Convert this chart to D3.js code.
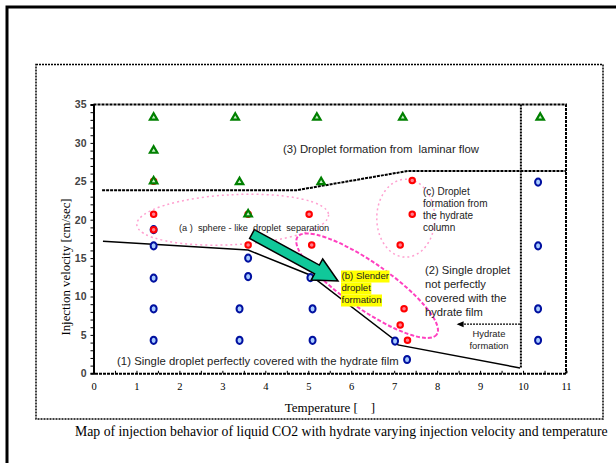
<!DOCTYPE html>
<html>
<head>
<meta charset="utf-8">
<script src="https://cdn.jsdelivr.net/npm/d3@7"></script>
<style>
  body { margin: 0; background: #fff; }
  svg { display: block; }
  text { white-space: pre; }
</style>
</head>
<body>
<svg width="616" height="463"></svg>
<script>
// tick values
const xTicks = d3.range(0, 12);
const xMinorTicks = d3.range(0, 11.01, 0.5);
const yTicks = d3.range(0, 36);

// observed points [temperature, velocity]
const laminarPts = [[1.4, 33.3], [3.3, 33.3], [5.2, 33.3], [7.2, 33.3], [10.4, 33.3],
  [1.4, 29.0], [1.4, 25.0], [3.4, 24.9], [5.3, 24.9], [3.6, 20.7]];
const filmPts = [[1.4, 4.3], [1.4, 8.4], [1.4, 12.4], [1.4, 16.6], [1.4, 18.7],
  [3.4, 4.3], [3.4, 8.4], [3.6, 12.6], [3.6, 15.0],
  [5.05, 12.45], [5.1, 8.4], [5.1, 4.3], [7.02, 4.2], [7.3, 1.8],
  [10.35, 4.3], [10.35, 8.4], [10.35, 16.6], [10.35, 24.9]];
const dropletPts = [[1.4, 20.7], [1.4, 18.7], [1.4, 25.0], [3.6, 20.7], [3.6, 16.7],
  [5.02, 20.7], [5.08, 16.7], [7.42, 25.1], [7.42, 20.7], [7.14, 16.7],
  [7.23, 8.4], [7.14, 6.3], [7.31, 4.3]];

// regime boundaries
const laminarBoundary = [[0.2, 23.85], [4.74, 23.85], [7.32, 26.35], [11, 26.35]];
const filmBoundary = [[0.22, 17.2], [3.6, 16.05], [5.04, 12.8], [7.02, 4.3], [7.09, 3.7], [9.93, 0.7]];
const hydrateLimit = [[9.95, 35], [9.95, 0.7]];
const hydrateArrow = [[9.93, 6.4], [8.5, 6.4]];

const svg = d3.select('svg');
const sans = 'Liberation Sans, Arial, sans-serif';
const serif = 'Liberation Serif, Times New Roman, serif';

const pL = 93.5, pR = 566, pT = 104.5, pB = 373.3;
const x = d3.scaleLinear().domain([0, 11]).range([pL, pR]);
const y = d3.scaleLinear().domain([0, 35]).range([pB, pT]);

// outer frames
svg.append('rect').attr('x', 7).attr('y', 7).attr('width', 640).attr('height', 480)
  .attr('fill', 'none').attr('stroke', '#000').attr('stroke-width', 3);
svg.append('rect').attr('x', 36).attr('y', 64.5).attr('width', 567).attr('height', 354.5)
  .attr('fill', 'none').attr('stroke', '#000').attr('stroke-width', 1.5).attr('stroke-dasharray', '2,1');

// plot border top / right
svg.append('path').attr('d', `M${pL},${pT}H${pR}V${pB}`)
  .attr('fill', 'none').attr('stroke', '#000').attr('stroke-width', 2).attr('stroke-dasharray', '3,1');

// axes
const gx = svg.append('g').attr('transform', `translate(0,${pB})`)
  .call(d3.axisBottom(x).tickValues(xMinorTicks).tickSize(-2.5).tickFormat(''));
gx.select('.domain').attr('stroke-width', 2).attr('stroke-dasharray', '3,1');
svg.append('g').attr('transform', `translate(0,${pB})`)
  .call(d3.axisBottom(x).tickValues(xTicks).tickSize(0).tickPadding(9))
  .call(g => g.select('.domain').remove())
  .selectAll('text').attr('font-family', serif).attr('font-size', 10.5).attr('fill', '#000');

const gy = svg.append('g').attr('transform', `translate(${pL},0)`)
  .call(d3.axisLeft(y).tickValues(yTicks).tickSize(3).tickPadding(4)
    .tickFormat(d => d % 5 === 0 ? d : ''));
gy.select('.domain').attr('stroke-width', 2);
gy.selectAll('text').attr('font-family', sans).attr('font-size', 10.5)
  .attr('font-weight', 'bold').attr('fill', '#444');

// axis titles
svg.append('text').attr('x', 330).attr('y', 412).attr('text-anchor', 'middle')
  .attr('font-family', serif).attr('font-size', 13).text('Temperature [    ]');
svg.append('text').attr('transform', 'translate(70,267) rotate(-90)').attr('text-anchor', 'middle')
  .attr('font-family', serif).attr('font-size', 12.8).text('Injection velocity [cm/sec]');
svg.append('text').attr('x', 75).attr('y', 436)
  .attr('font-family', serif).attr('font-size', 13.75)
  .text('Map of injection behavior of liquid CO2 with hydrate varying injection velocity and temperature');

const line = d3.line().x(d => x(d[0])).y(d => y(d[1]));

// regime ellipses
svg.append('ellipse').attr('cx', x(3.24)).attr('cy', y(20.0)).attr('rx', 96).attr('ry', 25)
  .attr('transform', `rotate(-3,${x(3.24)},${y(20.0)})`)
  .attr('fill', 'none').attr('stroke', '#ffa0d0').attr('stroke-width', 1.5).attr('stroke-dasharray', '2,3');
svg.append('ellipse').attr('cx', x(7.27)).attr('cy', y(20.2)).attr('rx', 29).attr('ry', 39)
  .attr('fill', 'none').attr('stroke', '#ffa0d0').attr('stroke-width', 1.5).attr('stroke-dasharray', '2,3');
svg.append('ellipse').attr('cx', x(6.37)).attr('cy', y(11.4)).attr('rx', 85).attr('ry', 23)
  .attr('transform', `rotate(35,${x(6.37)},${y(11.4)})`)
  .attr('fill', 'none').attr('stroke', '#ff40c0').attr('stroke-width', 2).attr('stroke-dasharray', '4,2');

// boundaries
svg.append('path').attr('d', line(laminarBoundary)).attr('fill', 'none')
  .attr('stroke', '#000').attr('stroke-width', 2).attr('stroke-dasharray', '3,1');
svg.append('path').attr('d', line(filmBoundary)).attr('fill', 'none')
  .attr('stroke', '#000').attr('stroke-width', 1.5);
svg.append('path').attr('d', line(hydrateLimit)).attr('fill', 'none')
  .attr('stroke', '#000').attr('stroke-width', 2).attr('stroke-dasharray', '2,1');
svg.append('path').attr('d', line(hydrateArrow)).attr('fill', 'none')
  .attr('stroke', '#000').attr('stroke-width', 1.3).attr('stroke-dasharray', '2,1');
const ah = hydrateArrow[1];
svg.append('path')
  .attr('d', `M${x(ah[0]) - 2},${y(ah[1])}l7,-3l0,6z`).attr('fill', '#000');

// points
svg.append('g').selectAll('ellipse').data(filmPts).join('ellipse')
  .attr('cx', d => x(d[0])).attr('cy', d => y(d[1])).attr('rx', 3).attr('ry', 3.6)
  .attr('fill', '#a8ccff').attr('stroke', '#0010a0').attr('stroke-width', 2);
svg.append('g').selectAll('path').data(dropletPts).join('path')
  .attr('transform', d => `translate(${x(d[0])},${y(d[1])})`)
  .attr('d', d3.symbol(d3.symbolCircle, 24))
  .attr('fill', '#ff8090').attr('stroke', '#ff0000').attr('stroke-width', 2);
svg.append('g').selectAll('path').data(laminarPts).join('path')
  .attr('transform', d => `translate(${x(d[0])},${y(d[1])})`)
  .attr('d', d3.symbol(d3.symbolTriangle, 24))
  .attr('fill', '#c8f0c8').attr('stroke', '#008000').attr('stroke-width', 2.2);

// big arrow toward slender region
const a0 = [252, 234], a1 = [338, 281];
const len = Math.hypot(a1[0] - a0[0], a1[1] - a0[1]);
const ang = Math.atan2(a1[1] - a0[1], a1[0] - a0[0]) * 180 / Math.PI;
const hl = 24, sw = 5, hw = 12;
svg.append('path')
  .attr('transform', `translate(${a0[0]},${a0[1]}) rotate(${ang})`)
  .attr('d', `M0,${-sw}L${len - hl},${-sw}L${len - hl},${-hw}L${len},0L${len - hl},${hw}L${len - hl},${sw}L0,${sw}Z`)
  .attr('fill', '#10c89a').attr('stroke', '#000').attr('stroke-width', 1.5);

// annotations
function label(lines, px, py, size, gap, opts = {}) {
  const t = svg.append('text').attr('font-family', sans).attr('font-size', size)
    .attr('fill', '#222').attr('text-anchor', opts.anchor || 'start')
    .attr('letter-spacing', opts.ls || 0);
  lines.forEach((s, i) => {
    t.append('tspan').attr('x', px).attr('y', py + i * gap).text(s);
  });
  return t;
}
label(['(3) Droplet formation from  laminar flow'], 283, 153, 11.3, 0);
label(['(a )  sphere - like  droplet  separation'], 179, 230.5, 9.2, 0);
label(['(c) Droplet', 'formation from', 'the hydrate', 'column'], 423, 194.5, 10, 12.2);
label(['(2) Single droplet', 'not perfectly', 'covered with the', 'hydrate film'], 425, 274, 11.2, 13.9);
label(['(1) Single droplet perfectly covered with the hydrate film'], 117, 365, 11.3, 0, {ls: 0.05});
label(['Hydrate', 'formation'], 489, 336.5, 9.4, 12.4, {anchor: 'middle'});

// highlighted (b) label
const bLines = ['(b) Slender', 'droplet', 'formation'];
const bg = svg.append('g');
const bt = label(bLines, 341.5, 279, 9.6, 12);
bt.selectAll('tspan').each(function(d, i) {
  const w = this.getComputedTextLength();
  bg.append('rect').attr('x', 341).attr('y', 270.5 + i * 12).attr('width', w + 1).attr('height', 12)
    .attr('fill', '#ffff00');
});
</script>
</body>
</html>
